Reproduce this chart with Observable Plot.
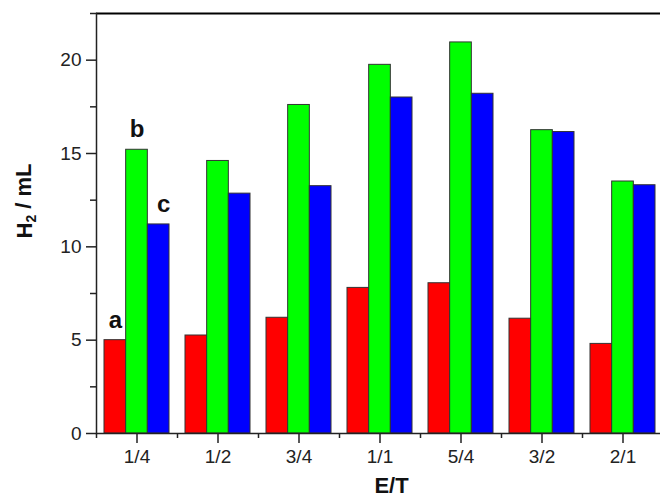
<!DOCTYPE html>
<html>
<head>
<meta charset="utf-8">
<script src="https://cdn.jsdelivr.net/npm/d3@7"></script>
<script src="https://cdn.jsdelivr.net/npm/@observablehq/plot@0.6"></script>
<style>
  html, body { margin: 0; padding: 0; background: #fff; }
  #chart svg { display: block; }
</style>
</head>
<body>
<div id="chart"></div>
<script>
const categories = ["1/4", "1/2", "3/4", "1/1", "5/4", "3/2", "2/1"];
const seriesNames = ["a", "b", "c"];
const seriesA = [5.0, 5.25, 6.2, 7.8, 8.05, 6.15, 4.8];
const seriesB = [15.2, 14.6, 17.6, 19.75, 20.95, 16.25, 13.5];
const seriesC = [11.2, 12.85, 13.25, 18.0, 18.2, 16.15, 13.3];
const yMajorTicks = [0, 5, 10, 15, 20];
const yMinorTicks = [2.5, 7.5, 12.5, 17.5, 22.5];
const colors = ["#ff0000", "#00ff00", "#0000ff"];

const seriesValues = [seriesA, seriesB, seriesC];
const rows = seriesValues.map((vals, s) =>
  categories.map((c, i) => ({category: c, series: seriesNames[s], value: vals[i]}))
);

const step = 81;
const barW = 21.67;
const inset = (step - barW) / 2;
const offsets = [-barW, 0, barW];

const marks = [];
rows.forEach((data, s) => {
  marks.push(Plot.barY(data, {
    x: "category", y: "value", fill: colors[s],
    stroke: "#333", strokeWidth: 1,
    insetLeft: inset, insetRight: inset, dx: offsets[s]
  }));
});
rows.forEach((data, s) => {
  marks.push(Plot.text([data[0]], {
    x: "category", y: "value", text: "series",
    dx: offsets[s] + (s === 2 ? 5 : 0), dy: -20,
    fontSize: 24, fontWeight: "bold", fill: "#111"
  }));
});

const plot = Plot.plot({
  width: 660,
  height: 498,
  marginTop: 13,
  marginBottom: 65,
  marginLeft: 96,
  marginRight: 0,
  style: {fontFamily: "'Liberation Sans', Arial, sans-serif", fontSize: "19px", color: "#222", background: "#fff"},
  x: {domain: categories, range: [96, 663], padding: 0, axis: null},
  y: {domain: [0, 22.5], axis: null},
  marks: [
    ...marks,
    Plot.axisY({ticks: yMajorTicks, tickSize: 10, tickPadding: 5, fontSize: 19, label: null, stroke: "#222", strokeWidth: 1.5}),
    Plot.axisY({ticks: yMinorTicks, tickSize: 6, text: null, label: null, stroke: "#222", strokeWidth: 1.5}),
    Plot.axisX({tickSize: 10, tickPadding: 6, fontSize: 19, label: null, stroke: "#222", strokeWidth: 1.5}),
    Plot.axisX({tickSize: 5, text: null, label: null, dx: -step / 2, stroke: "#222", strokeWidth: 1.5}),
    Plot.ruleY([0], {stroke: "#222", strokeWidth: 1.5}),
    Plot.ruleY([22.5], {stroke: "#000", strokeWidth: 2}),
    Plot.frame({anchor: "left", stroke: "#222", strokeWidth: 1.5}),
    Plot.text(["E/T"], {frameAnchor: "bottom", lineAnchor: "middle", dx: 13, dy: 52, fontSize: 22, fontWeight: "bold", fill: "#111"}),
    Plot.text(["H2 / mL"], {frameAnchor: "left", lineAnchor: "middle", dx: -72, dy: 15, rotate: -90, fontSize: 22, fontWeight: "bold", fill: "#111", className: "ylabel"})
  ]
});
document.getElementById("chart").appendChild(plot);

// subscript the 2 in the y label
d3.select(plot).selectAll(".ylabel text").each(function() {
  const t = d3.select(this);
  t.text(null);
  t.append("tspan").text("H");
  t.append("tspan").attr("font-size", "14px").attr("dy", "0.35em").text("2");
  t.append("tspan").attr("dy", "-0.25em").text(" / mL");
});
</script>
</body>
</html>
